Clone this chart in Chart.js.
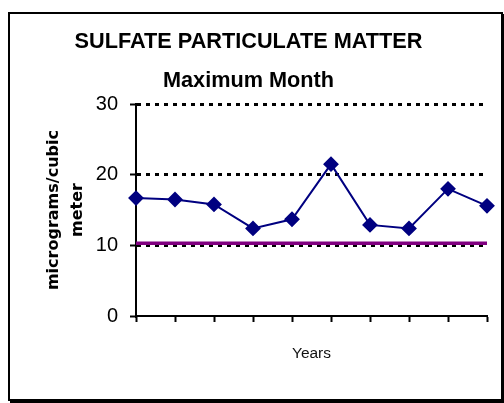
<!DOCTYPE html>
<html>
<head>
<meta charset="utf-8">
<script src="https://cdn.jsdelivr.net/npm/chart.js@4"></script>
<style>
  body { margin: 0; background: #fff; }
  #box {
    position: absolute; left: 8px; top: 12px;
    width: 491px; height: 385px;
    border: 2px solid #000;
    box-shadow: 2px 2px 0 #000;
  }
</style>
</head>
<body>
<div id="box"><canvas id="chartDiv" width="491" height="385"></canvas></div>
<script>
const years = ['1', '2', '3', '4', '5', '6', '7', '8', '9', '10']
const sulfateMax = [16.7, 16.5, 15.8, 12.4, 13.7, 21.5, 12.9, 12.4, 18.0, 15.6]
const standard = [10.3, 10.3, 10.3, 10.3, 10.3, 10.3, 10.3, 10.3, 10.3, 10.3]
const yTicks = [0, 10, 20, 30]

const chartElement = document.getElementById('chartDiv')

new Chart(chartElement, {
  type: 'line',
  data: {
    labels: years,
    datasets: [{
      label: 'Maximum Month',
      data: sulfateMax,
      borderColor: '#000080',
      backgroundColor: '#000080',
      borderWidth: 2,
      pointStyle: 'rectRot',
      pointRadius: 6.5,
      pointHoverRadius: 6.5,
      tension: 0,
    }, {
      label: 'Standard',
      data: standard,
      borderColor: '#800080',
      borderWidth: 3.5,
      pointRadius: 0,
      pointHoverRadius: 0,
    }]
  },
  options: {
    responsive: false,
    animation: false,
    layout: { padding: { right: 14 } },
    scales: {
      x: {
        offset: false,
        afterFit: (scale) => { scale.height = 83 },
        ticks: { display: false },
        grid: {
          drawOnChartArea: false,
          tickLength: 6,
          tickColor: '#000',
          tickWidth: 2,
        },
        border: { color: '#000', width: 2 },
        title: {
          display: true,
          text: 'Years',
          color: '#111',
          font: { family: '"Liberation Sans", Arial, sans-serif', size: 15.5 },
          padding: { top: 10, bottom: 36 },
        },
      },
      y: {
        min: 0,
        max: 30,
        afterFit: (scale) => { scale.width = 126 },
        afterBuildTicks: (scale) => { scale.ticks = yTicks.map(v => ({ value: v })) },
        ticks: {
          padding: 12,
          color: '#000',
          font: { family: '"Liberation Sans", Arial, sans-serif', size: 20 },
        },
        grid: {
          color: (ctx) => ctx.tick && ctx.tick.value === 0 ? 'rgba(0,0,0,0)' : '#000',
          lineWidth: 3,
          tickLength: 6,
          tickColor: '#000',
          tickWidth: 2,
          tickBorderDash: [],
        },
        border: { color: '#000', width: 2, dash: [4, 5] },
        title: {
          display: true,
          text: ['micrograms/cubic', 'meter'],
          color: '#000',
          font: { family: '"DejaVu Sans", sans-serif', size: 16, weight: 'bold', lineHeight: 1.5 },
          padding: { top: 32, bottom: 0 },
        },
      }
    },
    plugins: {
      legend: { display: false },
      tooltip: { enabled: false },
      title: {
        display: true,
        text: ['SULFATE PARTICULATE MATTER', 'Maximum Month'],
        color: '#000',
        font: { family: '"Liberation Sans", Arial, sans-serif', size: 21.7, weight: 'bold', lineHeight: 1.8 },
        padding: { top: 8, bottom: 4 },
      },
    }
  }
});
</script>
</body>
</html>
